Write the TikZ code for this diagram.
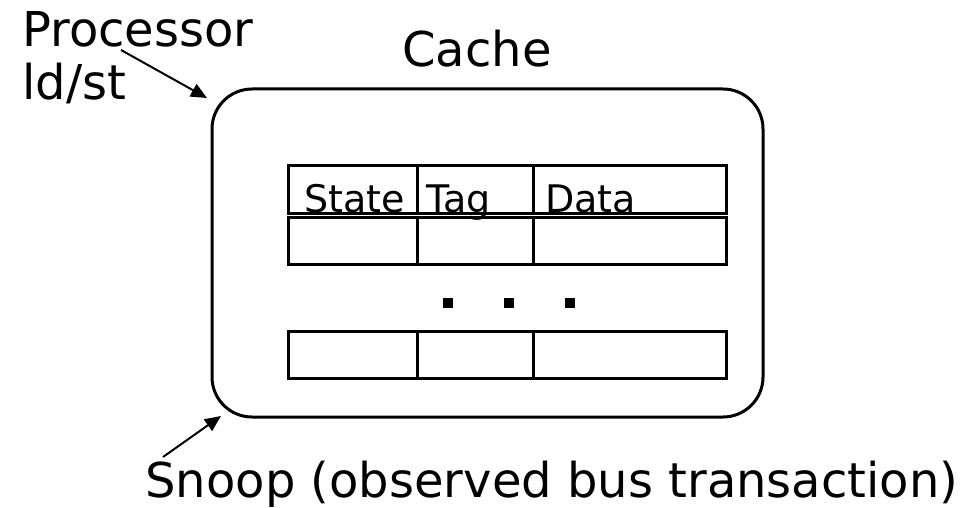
\documentclass[tikz,border=0pt]{standalone}
\usepackage{fontspec}
\setmainfont{DejaVu Sans}
\usetikzlibrary{arrows.meta}

\tikzset{
  bigtext/.style={font=\fontsize{24}{26.5}\selectfont, inner sep=0pt, anchor=base west},
  celltext/.style={font=\fontsize{19}{22}\selectfont, inner sep=0pt, anchor=base west},
  pointer/.style={line width=1pt, -{Triangle[length=8pt,width=7pt]}},
  cell/.style={line width=1.5pt},
}

\begin{document}
\begin{tikzpicture}[x=0.5pt,y=-0.5pt]
\useasboundingbox (0,0) rectangle (974,508);

% the cache
\draw[line width=1.5pt, rounded corners=20pt] (212,89) rectangle (763,417);
\node[bigtext] (cachelbl) at (402,67) {Cache};

% lines of the cache
\foreach \ya/\yb in {165/213, 217/264, 331/378}{
  \draw[cell] (288,\ya) rectangle (726,\yb);
  \draw[cell] (417,\ya) -- (417,\yb) (533,\ya) -- (533,\yb);
}
\node[celltext] (state) at (304,212) {State};
\node[celltext] (tag) at (426,212) {Tag};
\node[celltext] (data) at (545,212) {Data};
\foreach \x in {448,509,570}
  \fill (\x-5,298) rectangle (\x+5,308);

% processor and snoop side
\node[bigtext, align=left] (proc) at (22,100) {Processor\\ld/st};
\node[bigtext] (snoop) at (145,497) {Snoop (observed bus transaction)};
\coordinate (procfoot) at (121,50);
\coordinate (proctip) at (207,98);
\coordinate (snoopfoot) at (163,457);
\coordinate (snooptip) at (221,416);
\draw[pointer] (procfoot) -- (proctip);
\draw[pointer] (snoopfoot) -- (snooptip);
\end{tikzpicture}
\end{document}
